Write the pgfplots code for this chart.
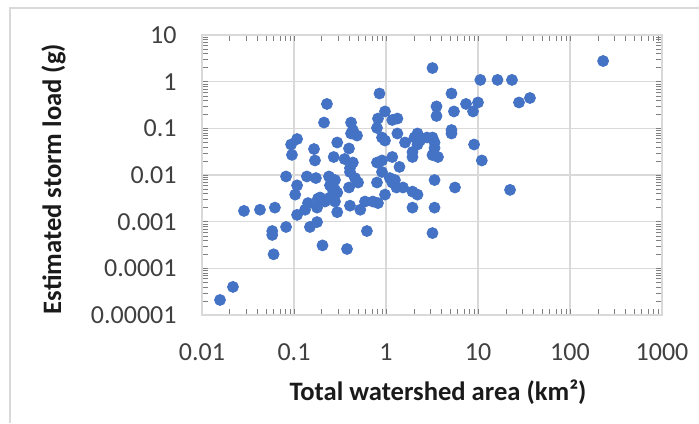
\documentclass[border=0pt]{standalone}
\usepackage{fontspec}
\setmainfont{Carlito}
\usepackage{pgfplots}
\pgfplotsset{compat=1.18}
\usetikzlibrary{calc}
\definecolor{ptblue}{HTML}{4472C4}
\definecolor{gridgray}{HTML}{D9D9D9}
\definecolor{tickgray}{HTML}{404040}
\definecolor{titlegray}{HTML}{1A1A1A}
\begin{document}
\begin{tikzpicture}
  % page = 699 x 423 px at 0.5pt per px, axis box at (202..662, 35..315)
  \path[use as bounding box] (-101pt,-54pt) rectangle (248.5pt,157.5pt);
  \draw[gridgray, line width=0.6pt] (-96pt,-54pt) -- (-96pt,153.5pt) -- (248.5pt,153.5pt);
  \begin{axis}[
      at={(0,0)}, anchor=south west,
      width=230pt, height=140pt, scale only axis,
      xmode=log, ymode=log,
      xmin=0.01, xmax=1000, ymin=0.00001, ymax=10,
      xtick={0.01,0.1,1,10,100,1000},
      xticklabels={0.01,0.1,1,10,100,1000},
      ytick={0.00001,0.0001,0.001,0.01,0.1,1,10},
      yticklabels={0.00001,0.0001,0.001,0.01,0.1,1,10},
      minor xtick={}, minor ytick={},
      major tick length=0pt,
      grid=major,
      major grid style={gridgray, line width=0.75pt},
      axis line style={gridgray, line width=0.75pt},
      every tick label/.append style={font=\fontsize{13}{15}\selectfont, text=tickgray, inner sep=0pt},
      xticklabel style={anchor=north, yshift=-14pt},
      yticklabel style={anchor=east, xshift=-12.5pt},
      xlabel={Total watershed area (km²)},
      ylabel={Estimated storm load (g)},
      label style={font=\fontsize{13.3}{15}\selectfont\bfseries, text=titlegray, inner sep=0pt},
      xlabel style={at={(axis description cs:0.5,0)}, anchor=north, yshift=-32pt, xshift=3pt},
      ylabel style={at={($(axis description cs:0,0.5)+(-68pt,-2pt)$)}, anchor=south},
      clip=false,
    ]
    \addplot[only marks, mark=*, mark size=2.75pt, color=ptblue] table {
x y
0.0157 0.000021
0.0217 0.00004
0.0286 0.0017
0.0427 0.0018
0.062 0.002
0.058 0.00063
0.058 0.00052
0.060 0.0002
0.082 0.00077
0.082 0.0093
0.108 0.006
0.103 0.0038
0.108 0.0014
0.093 0.045
0.095 0.027
0.108 0.059
0.228 0.333
0.212 0.133
0.417 0.133
0.436 0.092
0.484 0.070
0.417 0.0775
0.165 0.036
0.169 0.0205
0.295 0.0497
0.396 0.037
0.27 0.0243
0.355 0.022
0.436 0.0185
0.406 0.0141
0.138 0.0093
0.173 0.0086
0.24 0.0093
0.279 0.0078
0.246 0.006
0.279 0.0048
0.26 0.0052
0.406 0.0116
0.46 0.0086
0.497 0.0069
0.396 0.0054
0.295 0.0042
0.27 0.0033
0.182 0.0031
0.192 0.0033
0.217 0.0027
0.246 0.0033
0.279 0.0027
0.142 0.0025
0.132 0.0018
0.178 0.0020
0.295 0.0016
0.406 0.0022
0.525 0.0018
0.591 0.0027
0.178 0.00098
0.149 0.00077
0.62 0.00063
0.204 0.00031
0.377 0.00026
0.798 0.0185
0.905 0.0205
1.40 0.0149
0.905 0.0116
1.10 0.0086
0.798 0.0069
1.25 0.0078
1.17 0.0069
1.30 0.0054
0.975 0.0038
1.53 0.0054
1.94 0.0044
2.20 0.0038
0.72 0.0027
0.818 0.0025
1.94 0.0020
3.37 0.0020
3.37 0.0078
5.62 0.0054
3.2 0.00057
22.3 0.0048
3.2 1.96
10.6 1.09
16.3 1.09
23.4 1.09
27.9 0.358
36.7 0.447
229 2.77
0.85 0.557
5.15 0.557
3.54 0.295
3.54 0.184
5.48 0.23
7.41 0.333
8.83 0.23
10.0 0.358
0.975 0.23
0.818 0.162
1.17 0.151
1.33 0.162
0.798 0.102
1.33 0.0775
5.15 0.092
5.15 0.0775
2.20 0.0775
2.34 0.0548
2.04 0.0636
2.79 0.0636
3.2 0.0636
3.37 0.0497
3.37 0.0379
1.61 0.0497
0.905 0.0636
0.975 0.0548
9.06 0.045
2.20 0.045
1.94 0.0311
1.94 0.0243
3.2 0.0268
3.67 0.0243
1.17 0.0243
11.0 0.0205
    };
  \end{axis}
\end{tikzpicture}
\end{document}
